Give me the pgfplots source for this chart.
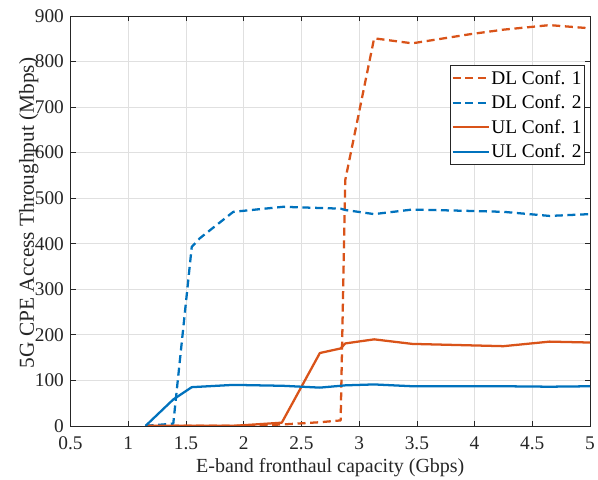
\documentclass[border=0pt]{standalone}
\usepackage{fontspec}
\setmainfont{Liberation Serif}
\usepackage{pgfplots}
\pgfplotsset{compat=1.18}
\definecolor{mblue}{rgb}{0,0.447,0.741}
\definecolor{morange}{rgb}{0.85,0.325,0.098}
\definecolor{axgray}{rgb}{0.15,0.15,0.15}
\begin{document}
\begin{tikzpicture}
\begin{axis}[
  scale only axis,
  width=389.6pt, height=307.4pt,
  xmin=0.5, xmax=5, ymin=0, ymax=900,
  xtick={0.5,1,...,5}, ytick={0,100,...,900},
  xticklabels={0.5,1,1.5,2,2.5,3,3.5,4,4.5,5},
  /pgf/number format/assume math mode=true,
  tick align=inside,
  major tick length=3.75pt,
  axis line style={axgray, line width=0.5pt},
  tick style={axgray, line width=0.5pt},
  grid=major,
  major grid style={black!12, line width=0.5pt},
  xlabel={E-band fronthaul capacity (Gbps)},
  ylabel={5G CPE Access Throughput (Mbps)},
  every axis x label/.style={at={(axis description cs:0.5,0)}, anchor=center, yshift=-31pt, font=\fontsize{15}{17}\selectfont},
  every axis y label/.style={at={(axis description cs:0,0.5)}, xshift=-31.4pt, yshift=6pt, anchor=center, rotate=90, font=\fontsize{16}{18}\selectfont},
  xticklabel style={inner sep=1pt, yshift=-6.8pt},
  yticklabel style={inner sep=1pt, xshift=-3.8pt},
  tick label style={font=\fontsize{14.5}{16}\selectfont, text=axgray},
  label style={text=axgray},
  legend style={at={(0.99,0.880)}, anchor=north east, draw=axgray, line width=0.5pt,
    font=\fontsize{14.5}{16}\selectfont, inner xsep=1pt, inner ysep=2.5pt,
    nodes={inner sep=1.2pt}, row sep=4.3pt,
    legend cell align=left},
  legend image code/.code={\draw[#1, line width=1.7pt] (0pt,0pt) -- (27pt,0pt);},
  every axis plot/.append style={line width=1.7pt, line join=round},
]
\addplot[morange, dash pattern=on 6pt off 3.5pt] coordinates {
 (1.15,0) (1.39,0) (1.55,0) (1.91,0) (2.33,3) (2.66,8) (2.84,12) (2.88,540)
 (3.13,851) (3.46,840) (3.96,860) (4.25,870) (4.65,880) (5.0,873)};
\addlegendentry{DL Conf. 1}
\addplot[mblue, dash pattern=on 6pt off 3.5pt] coordinates {
 (1.15,0) (1.30,3) (1.39,5) (1.55,393) (1.62,412) (1.91,470) (2.34,481)
 (2.84,477) (2.88,474) (3.13,465) (3.46,475) (3.96,472) (4.25,470) (4.65,461) (5.0,465)};
\addlegendentry{DL Conf. 2}
\addplot[morange] coordinates {
 (1.15,0) (1.39,0) (1.55,0) (1.91,0) (2.33,7) (2.66,160) (2.84,170) (2.88,181)
 (3.13,190) (3.46,180) (4.25,175) (4.65,185) (5.0,183)};
\addlegendentry{UL Conf. 1}
\addplot[mblue] coordinates {
 (1.15,0) (1.39,58) (1.55,85) (1.91,90) (2.34,88) (2.66,84) (2.84,88) (2.88,89)
 (3.13,91) (3.46,87) (4.25,87) (4.65,86) (5.0,87)};
\addlegendentry{UL Conf. 2}
\end{axis}
\pgfresetboundingbox
\path (-52.9pt,-39.9pt) rectangle (395.6pt,319.4pt);
\end{tikzpicture}
\end{document}
